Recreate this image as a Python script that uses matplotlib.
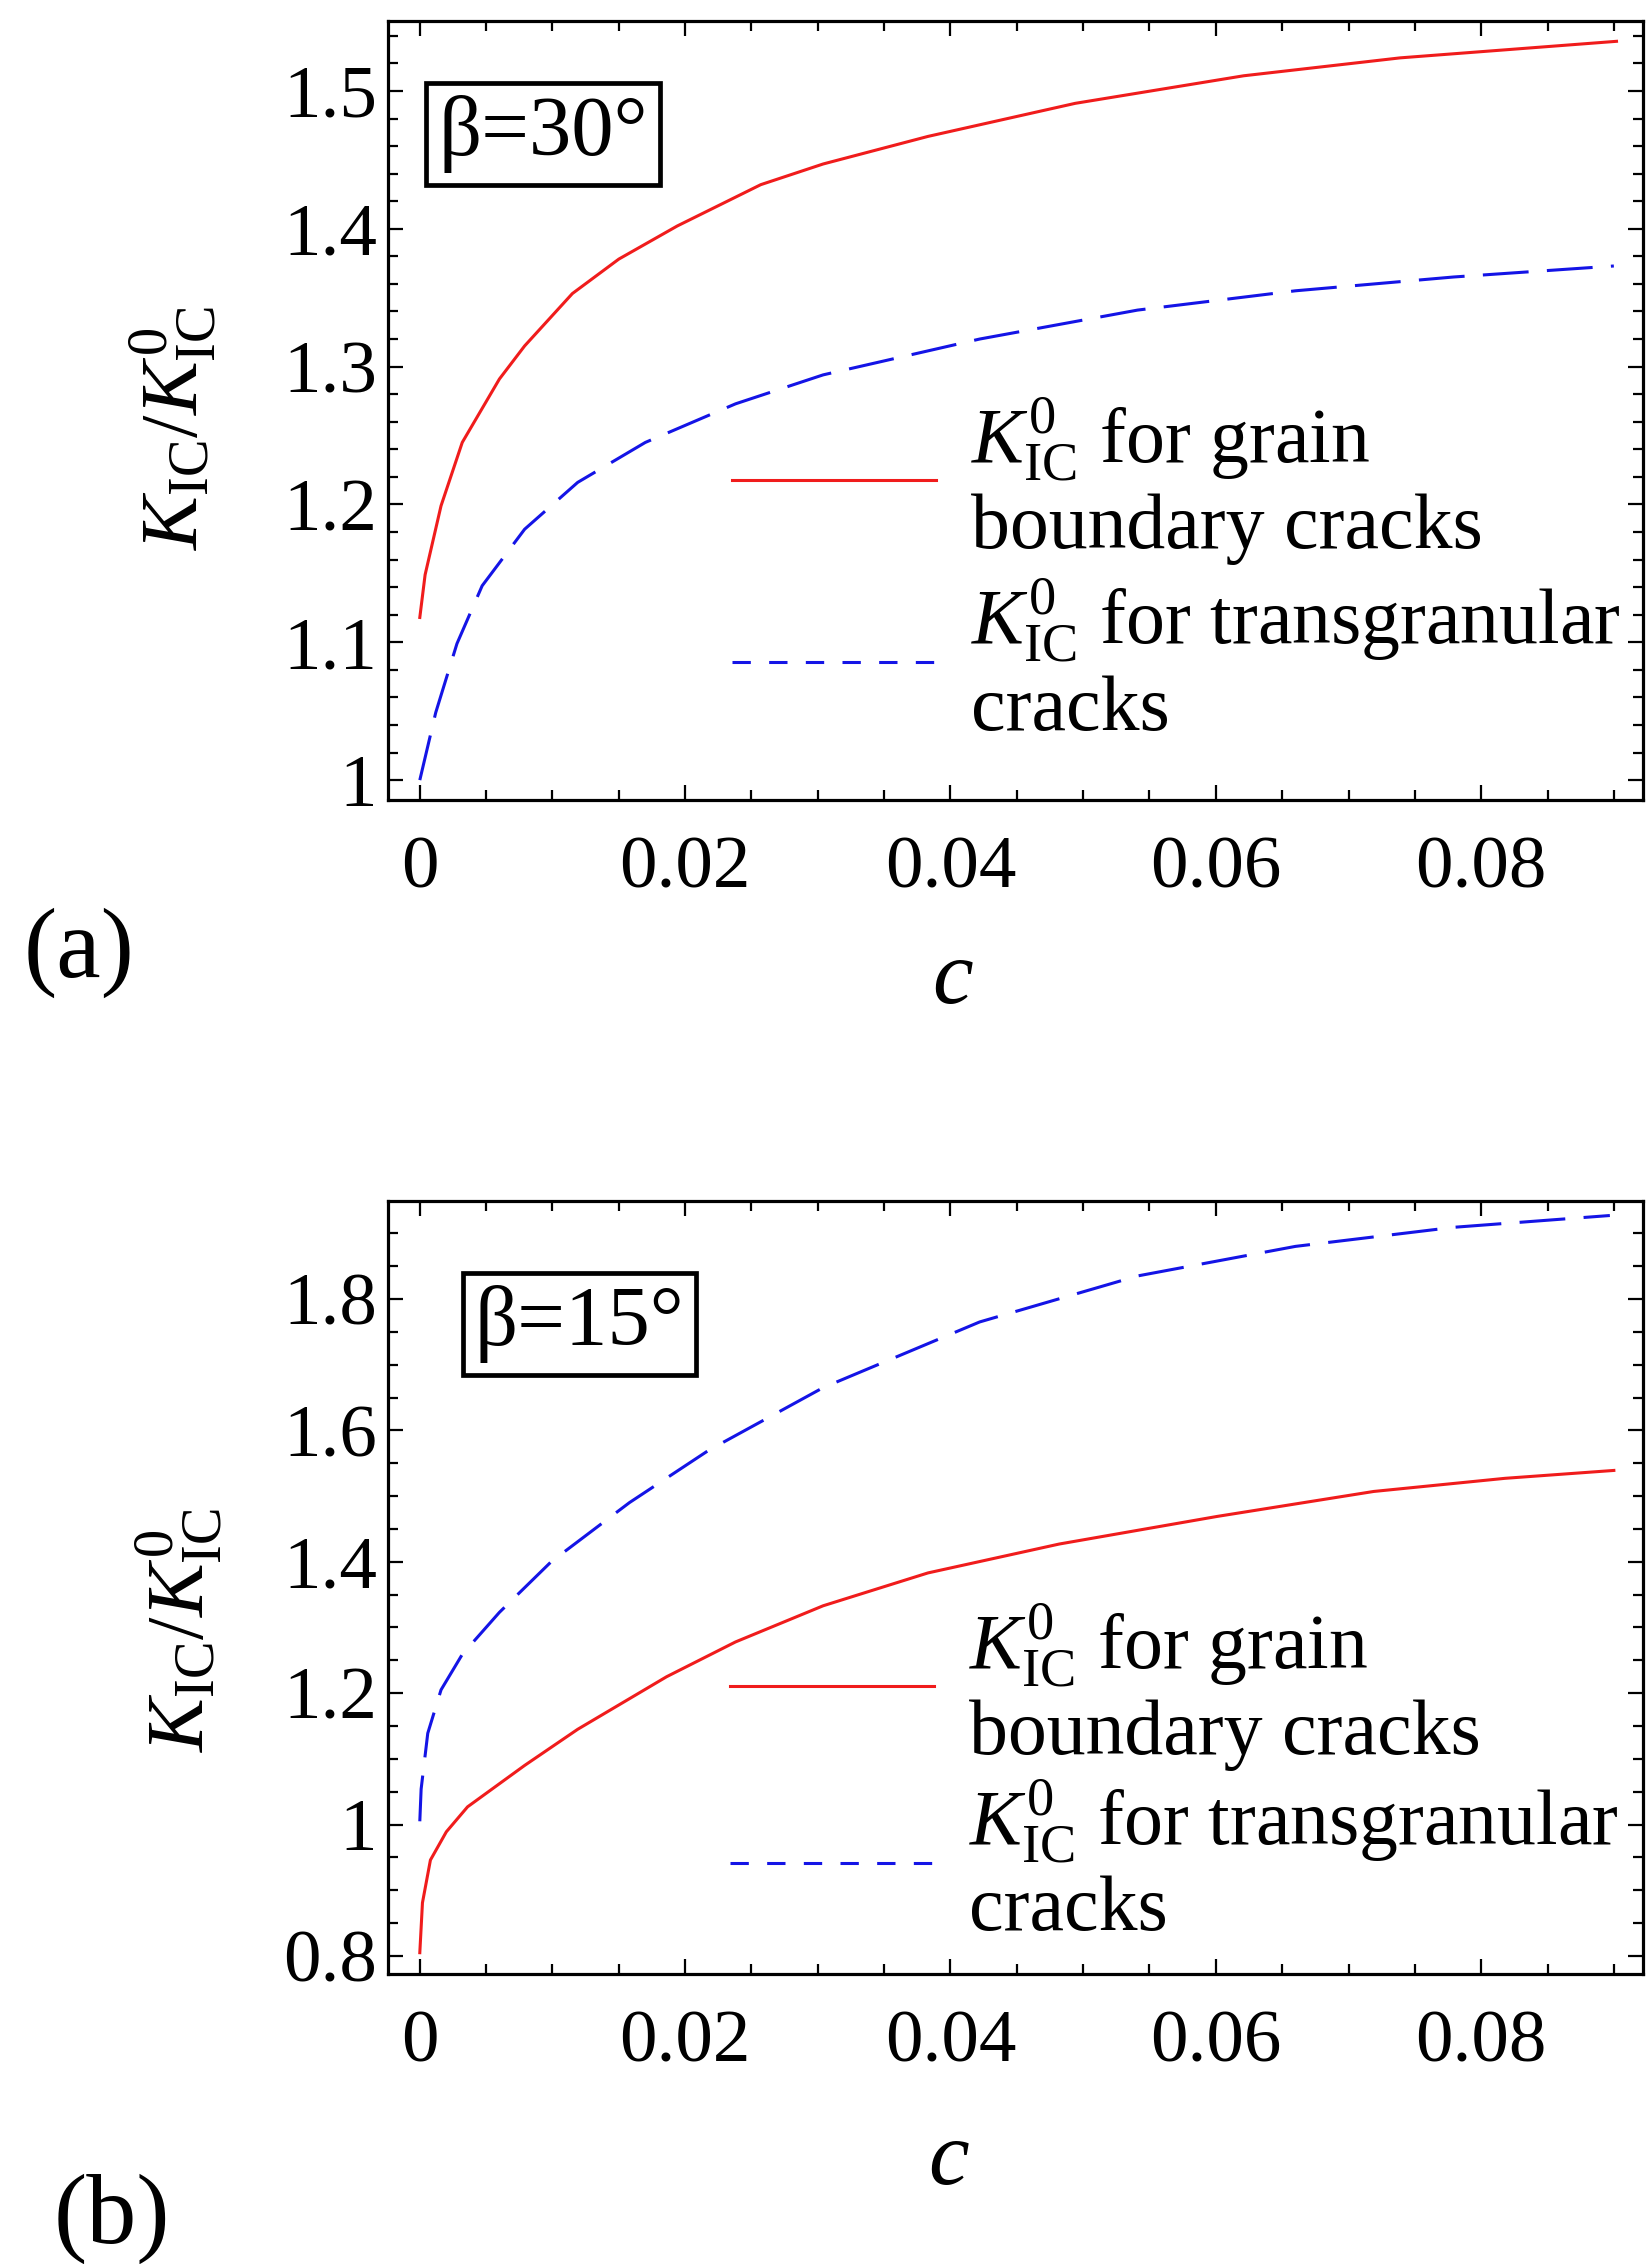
import numpy as np
import matplotlib
matplotlib.use('Agg')
from matplotlib import pyplot as plt
from matplotlib.lines import Line2D
from matplotlib.ticker import FixedLocator, MultipleLocator

plt.rcParams['font.family'] = ['Liberation Serif', 'DejaVu Serif']
plt.rcParams['mathtext.fontset'] = 'custom'
plt.rcParams['mathtext.rm'] = 'Liberation Serif'
plt.rcParams['mathtext.it'] = 'Liberation Serif:italic'

# (a) beta = 30 deg
c_a_grain = [0, 0.0004, 0.0016, 0.0032, 0.006, 0.0079, 0.0115, 0.015, 0.0194,
             0.0257, 0.0304, 0.0383, 0.0494, 0.0621, 0.0739, 0.0902]
k_a_grain = [1.118, 1.149, 1.199, 1.245, 1.291, 1.315, 1.353, 1.378, 1.402,
             1.432, 1.447, 1.467, 1.491, 1.511, 1.524, 1.536]
c_a_trans = [0, 0.0012, 0.0028, 0.0047, 0.0079, 0.0119, 0.017, 0.0238, 0.0304,
             0.0422, 0.0541, 0.066, 0.0779, 0.09]
k_a_trans = [1.0, 1.049, 1.099, 1.141, 1.182, 1.216, 1.245, 1.273, 1.294,
             1.32, 1.341, 1.355, 1.365, 1.373]

# (b) beta = 15 deg
c_b_grain = [0, 0.0002, 0.0008, 0.002, 0.0036, 0.0079, 0.0119, 0.0186, 0.0238,
             0.0304, 0.0383, 0.0482, 0.0601, 0.0719, 0.0818, 0.09]
k_b_grain = [0.805, 0.881, 0.946, 0.989, 1.027, 1.09, 1.145, 1.225, 1.278,
             1.333, 1.383, 1.427, 1.469, 1.507, 1.527, 1.539]
c_b_trans = [0, 0.0001, 0.0006, 0.0016, 0.0032, 0.006, 0.0099, 0.0158, 0.0218,
             0.0304, 0.0422, 0.0541, 0.066, 0.0779, 0.0897]
k_b_trans = [1.005, 1.054, 1.139, 1.205, 1.259, 1.323, 1.40, 1.49, 1.57,
             1.665, 1.765, 1.835, 1.88, 1.909, 1.927]

x_ticks = [0, 0.02, 0.04, 0.06, 0.08]
x_labels = ['0', '0.02', '0.04', '0.06', '0.08']
y_ticks_a = [1.0, 1.1, 1.2, 1.3, 1.4, 1.5]
y_labels_a = ['1', '1.1', '1.2', '1.3', '1.4', '1.5']
y_ticks_b = [0.8, 1.0, 1.2, 1.4, 1.6, 1.8]
y_labels_b = ['0.8', '1', '1.2', '1.4', '1.6', '1.8']

label_grain = r'$K_{\mathrm{IC}}^{0}$ for grain' + '\nboundary cracks'
label_trans = r'$K_{\mathrm{IC}}^{0}$ for transgranular' + '\ncracks'
ylabel = r'$K_{\mathrm{IC}}/K_{\mathrm{IC}}^{0}$'

red = '#f01c1c'
blue = '#1414e6'

fig = plt.figure(figsize=(16.46, 22.64), dpi=100)
ax1 = fig.add_axes([0.2357, 0.6466, 0.7625, 0.3441])
ax2 = fig.add_axes([0.2357, 0.1281, 0.7625, 0.3414])


def style(ax, yt, yl, ylim, yminor, beta, box_xy, leg_xy, lab_xy, ylab_xy, lsp):
    ax.set_xlim(-0.0024, 0.0922)
    ax.set_ylim(*ylim)
    ax.xaxis.set_major_locator(FixedLocator(x_ticks))
    ax.set_xticklabels(x_labels)
    ax.xaxis.set_minor_locator(MultipleLocator(0.005))
    ax.yaxis.set_major_locator(FixedLocator(yt))
    ax.set_yticklabels(yl)
    ax.yaxis.set_minor_locator(MultipleLocator(yminor))
    ax.tick_params(which='both', direction='in', top=True, right=True,
                   width=1.6, labelsize=54)
    ax.tick_params(axis='x', which='major', length=11, pad=26)
    ax.tick_params(axis='y', which='major', length=11, pad=8)
    ax.tick_params(which='minor', length=7)
    for s in ax.spines.values():
        s.set_linewidth(2.3)

    ax.set_xlabel('c', fontstyle='italic', fontsize=66)
    ax.xaxis.label.set_va('baseline')
    ax.xaxis.set_label_coords(*lab_xy)
    ax.set_ylabel(ylabel, fontsize=58)
    ax.yaxis.label.set_va('center')
    ax.yaxis.set_label_coords(*ylab_xy)

    ax.text(box_xy[0], box_xy[1], 'β=' + beta + '°', fontsize=61,
            transform=ax.transAxes, va='baseline', ha='left',
            bbox=dict(boxstyle='square,pad=0.14', fc='white', ec='black', lw=3.4))

    handles = [Line2D([], [], color=red, lw=2.2),
               Line2D([], [], color=blue, lw=2.2, dashes=(6, 6))]
    ax.legend(handles, [label_grain, label_trans], loc='upper left',
              bbox_to_anchor=leg_xy, frameon=False, fontsize=56,
              handlelength=2.62, handletextpad=0.45, labelspacing=lsp,
              borderpad=0, borderaxespad=0)


ax1.plot(c_a_grain, k_a_grain, color=red, lw=2.2)
ax1.plot(c_a_trans, k_a_trans, color=blue, lw=2.2, dashes=(15, 6))
style(ax1, y_ticks_a, y_labels_a, (0.9855, 1.5507), 0.02, '30',
      (0.04, 0.828), (0.274, 0.52), (0.45, -0.2606), (-0.171, 0.4775), 0.15)

ax2.plot(c_b_grain, k_b_grain, color=red, lw=2.2)
ax2.plot(c_b_trans, k_b_trans, color=blue, lw=2.2, dashes=(15, 6))
style(ax2, y_ticks_b, y_labels_b, (0.7726, 1.949), 0.05, '15',
      (0.0693, 0.814), (0.2725, 0.482), (0.447, -0.2717), (-0.166, 0.445), 0.08)

fig.text(0.048, 0.579, '(a)', fontsize=72, ha='center', va='center')
fig.text(0.068, 0.020, '(b)', fontsize=72, ha='center', va='center')

fig.savefig('out.png', dpi=100)
